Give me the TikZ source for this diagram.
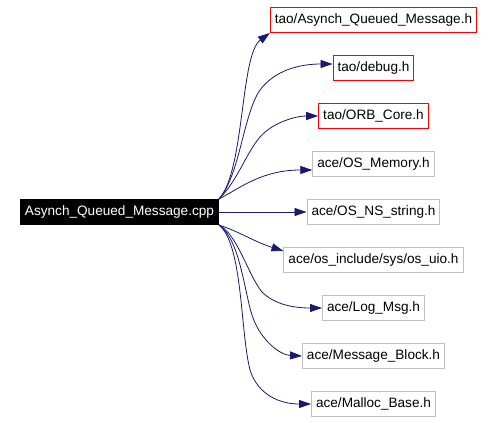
\documentclass[tikz,border=0pt]{standalone}
\usepackage{fontspec}
\setmainfont{Liberation Sans}
\usetikzlibrary{positioning, arrows.meta}
\definecolor{edgeblue}{HTML}{191970}
\definecolor{boxgray}{HTML}{BFBFBF}
\tikzset{
  % Include graph
  filenode/.style  = { draw=boxgray, line width=1pt, minimum height=25pt,
                       inner xsep=4.5pt, inner ysep=2pt,
                       font=\fontsize{13.6}{16}\selectfont, text=black },
  localnode/.style = { filenode, draw=red },
  rootnode/.style  = { filenode, draw=black, fill=black, text=white },
  incflow/.style   = { edgeblue, line width=0.8pt,
                       -{Triangle[length=12pt, width=8pt]} }
}

\begin{document}
\begin{tikzpicture}[x=1pt, y=-1pt, node distance=22pt]
  \useasboundingbox (0,0) rectangle (494,422);

  \node[rootnode] (root) at (119.5,212) {Asynch\_Queued\_Message.cpp};

  \node[localnode] (asynchh) at (373.5,20) {tao/Asynch\_Queued\_Message.h};
  \node[localnode, below=of asynchh] (debugh) {tao/debug.h};
  \node[localnode, below=of debugh] (orbcoreh) {tao/ORB\_Core.h};
  \node[filenode, below=of orbcoreh] (osmemoryh) {ace/OS\_Memory.h};
  \node[filenode, below=of osmemoryh] (osnsstringh) {ace/OS\_NS\_string.h};
  \node[filenode, below=of osnsstringh] (osuioh) {ace/os\_include/sys/os\_uio.h};
  \node[filenode, below=of osuioh] (logmsgh) {ace/Log\_Msg.h};
  \node[filenode, below=of logmsgh] (messageblockh) {ace/Message\_Block.h};
  \node[filenode, below=of messageblockh] (mallocbaseh) {ace/Malloc\_Base.h};

  \draw[incflow] (root.north east) .. controls (245,170) and (240,55) .. (asynchh.south west);
  \draw[incflow] (root.north east) .. controls (240,175) and (243,115) .. (260,90)
                 .. controls (275,70) and (300,64) .. ([yshift=4pt]debugh.west);
  \draw[incflow] (root.north east) .. controls (238,180) and (245,155) .. (260,137)
                 .. controls (272,123) and (295,116) .. (orbcoreh.west);
  \draw[incflow] (root.north east) .. controls (240,188) and (262,170) .. ([yshift=-6pt]osmemoryh.west);
  \draw[incflow] (root.east) -- (osnsstringh.west);
  \draw[incflow] (root.south east) .. controls (240,232) and (255,242) .. ([yshift=9pt]osuioh.west);
  \draw[incflow] (root.south east) .. controls (238,235) and (248,275) .. (262,292)
                 .. controls (275,305) and (295,308) .. (logmsgh.west);
  \draw[incflow] (root.south east) .. controls (240,240) and (244,290) .. (252,315)
                 .. controls (260,340) and (280,355) .. (messageblockh.west);
  \draw[incflow] (root.south east) .. controls (243,245) and (240,330) .. (250,370)
                 .. controls (258,395) and (280,404) .. (mallocbaseh.west);

\end{tikzpicture}
\end{document}
